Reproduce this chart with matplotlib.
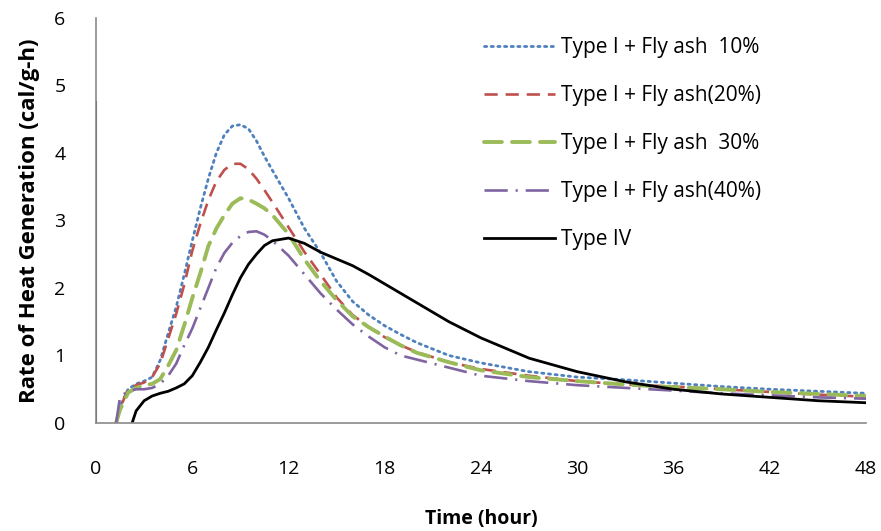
import numpy as np
import matplotlib
matplotlib.use('Agg')
import matplotlib.pyplot as plt

plt.rcParams['font.family'] = ['Open Sans', 'DejaVu Sans']

# hours for the fly ash mixes
hours = [1.25, 1.5, 2, 2.5, 3, 3.5, 4, 4.5, 5, 5.5, 6, 6.5, 7, 7.5, 8, 8.5, 9, 9.5,
         10, 10.5, 11, 12, 13, 14, 15, 16, 17, 18, 19, 20, 22, 24, 27, 30, 33, 36,
         39, 42, 45, 48]
fa10 = [0, 0.25, 0.5, 0.58, 0.62, 0.68, 0.93, 1.33, 1.72, 2.2, 2.7, 3.18, 3.62, 4.0,
        4.27, 4.4, 4.42, 4.36, 4.18, 3.95, 3.74, 3.33, 2.88, 2.52, 2.1, 1.8, 1.6, 1.44,
        1.31, 1.19, 1.0, 0.89, 0.76, 0.68, 0.64, 0.59, 0.54, 0.5, 0.47, 0.44]
fa20 = [0, 0.22, 0.5, 0.56, 0.6, 0.68, 0.88, 1.25, 1.62, 2.05, 2.55, 2.95, 3.3, 3.58,
        3.75, 3.84, 3.84, 3.76, 3.62, 3.45, 3.27, 2.9, 2.53, 2.2, 1.86, 1.6, 1.42, 1.27,
        1.15, 1.05, 0.9, 0.8, 0.7, 0.62, 0.57, 0.54, 0.5, 0.46, 0.42, 0.39]
fa30 = [0, 0.2, 0.45, 0.52, 0.56, 0.58, 0.65, 0.85, 1.08, 1.45, 1.85, 2.22, 2.62, 2.88,
        3.08, 3.25, 3.33, 3.31, 3.25, 3.18, 3.08, 2.8, 2.42, 2.1, 1.82, 1.58, 1.42, 1.28,
        1.15, 1.04, 0.9, 0.78, 0.68, 0.62, 0.57, 0.53, 0.5, 0.46, 0.43, 0.4]
fa40 = [0, 0.39, 0.47, 0.5, 0.5, 0.52, 0.58, 0.7, 0.88, 1.15, 1.4, 1.7, 2.0, 2.3,
        2.52, 2.67, 2.77, 2.83, 2.84, 2.79, 2.7, 2.48, 2.2, 1.92, 1.68, 1.46, 1.28, 1.12,
        1.0, 0.94, 0.82, 0.7, 0.62, 0.56, 0.52, 0.48, 0.44, 0.41, 0.38, 0.36]

# Type IV
hours4 = [2.25, 2.5, 3, 3.5, 4, 4.5, 5, 5.5, 6, 6.5, 7, 7.5, 8, 8.5, 9, 9.5, 10, 10.5,
          11, 12, 13, 14, 15, 16, 17, 18, 19, 20, 22, 24, 27, 30, 33, 36, 39, 42, 45, 48]
type4 = [0, 0.18, 0.33, 0.4, 0.44, 0.47, 0.52, 0.58, 0.7, 0.9, 1.12, 1.38, 1.63, 1.9,
         2.15, 2.35, 2.5, 2.63, 2.7, 2.74, 2.66, 2.53, 2.43, 2.33, 2.2, 2.06, 1.92, 1.78,
         1.5, 1.26, 0.96, 0.76, 0.61, 0.5, 0.43, 0.38, 0.33, 0.3]

labels = ['Type I + Fly ash  10%', 'Type I + Fly ash(20%)', 'Type I + Fly ash  30%',
          'Type I + Fly ash(40%)', 'Type IV']

fig = plt.figure(figsize=(8.81, 5.31), dpi=100)
ax = fig.add_axes([0.109, 0.2034, 0.874, 0.7627])

ax.plot(hours, fa10, color='#4F81BD', lw=2.0, dashes=(0.8, 1.6),
        dash_capstyle='round', label=labels[0])
ax.plot(hours, fa20, color='#C0504D', lw=1.9, dashes=(5, 3), label=labels[1])
ax.plot(hours, fa30, color='#9BBB59', lw=2.8, dashes=(4.6, 2.6),
        dash_capstyle='round', label=labels[2])
ax.plot(hours, fa40, color='#8064A2', lw=1.9, dashes=(8.8, 3, 0.8, 3), label=labels[3])
ax.plot(hours4, type4, color='black', lw=2.0, label=labels[4])

# darker part of the vertical axis
ax.axvline(0, ymin=0, ymax=4.76 / 6, color='#3a3a3a', lw=1.5, zorder=1)

ax.set_xlim(0, 48)
ax.set_ylim(0, 6)
ax.set_xticks(np.arange(0, 49, 6))
ax.set_yticks(np.arange(0, 7, 1))

for s in ['top', 'right']:
    ax.spines[s].set_visible(False)
for s in ['left', 'bottom']:
    ax.spines[s].set_color('#8a8a8a')
    ax.spines[s].set_linewidth(1.2)

ax.tick_params(axis='x', length=0, pad=27, labelsize=14)
ax.tick_params(axis='y', length=0, pad=22, labelsize=14)

ax.set_xlabel('Time (hour)', fontsize=14, fontweight='bold', labelpad=22)
ax.set_ylabel('Rate of Heat Generation (cal/g-h)', fontsize=16, fontweight='bold',
              labelpad=10)

ax.legend(loc='upper left', bbox_to_anchor=(0.493, 0.974), frameon=False, fontsize=15,
          handlelength=3.4, handletextpad=0.3, labelspacing=1.3, borderaxespad=0)

fig.savefig('out.png', dpi=100)
